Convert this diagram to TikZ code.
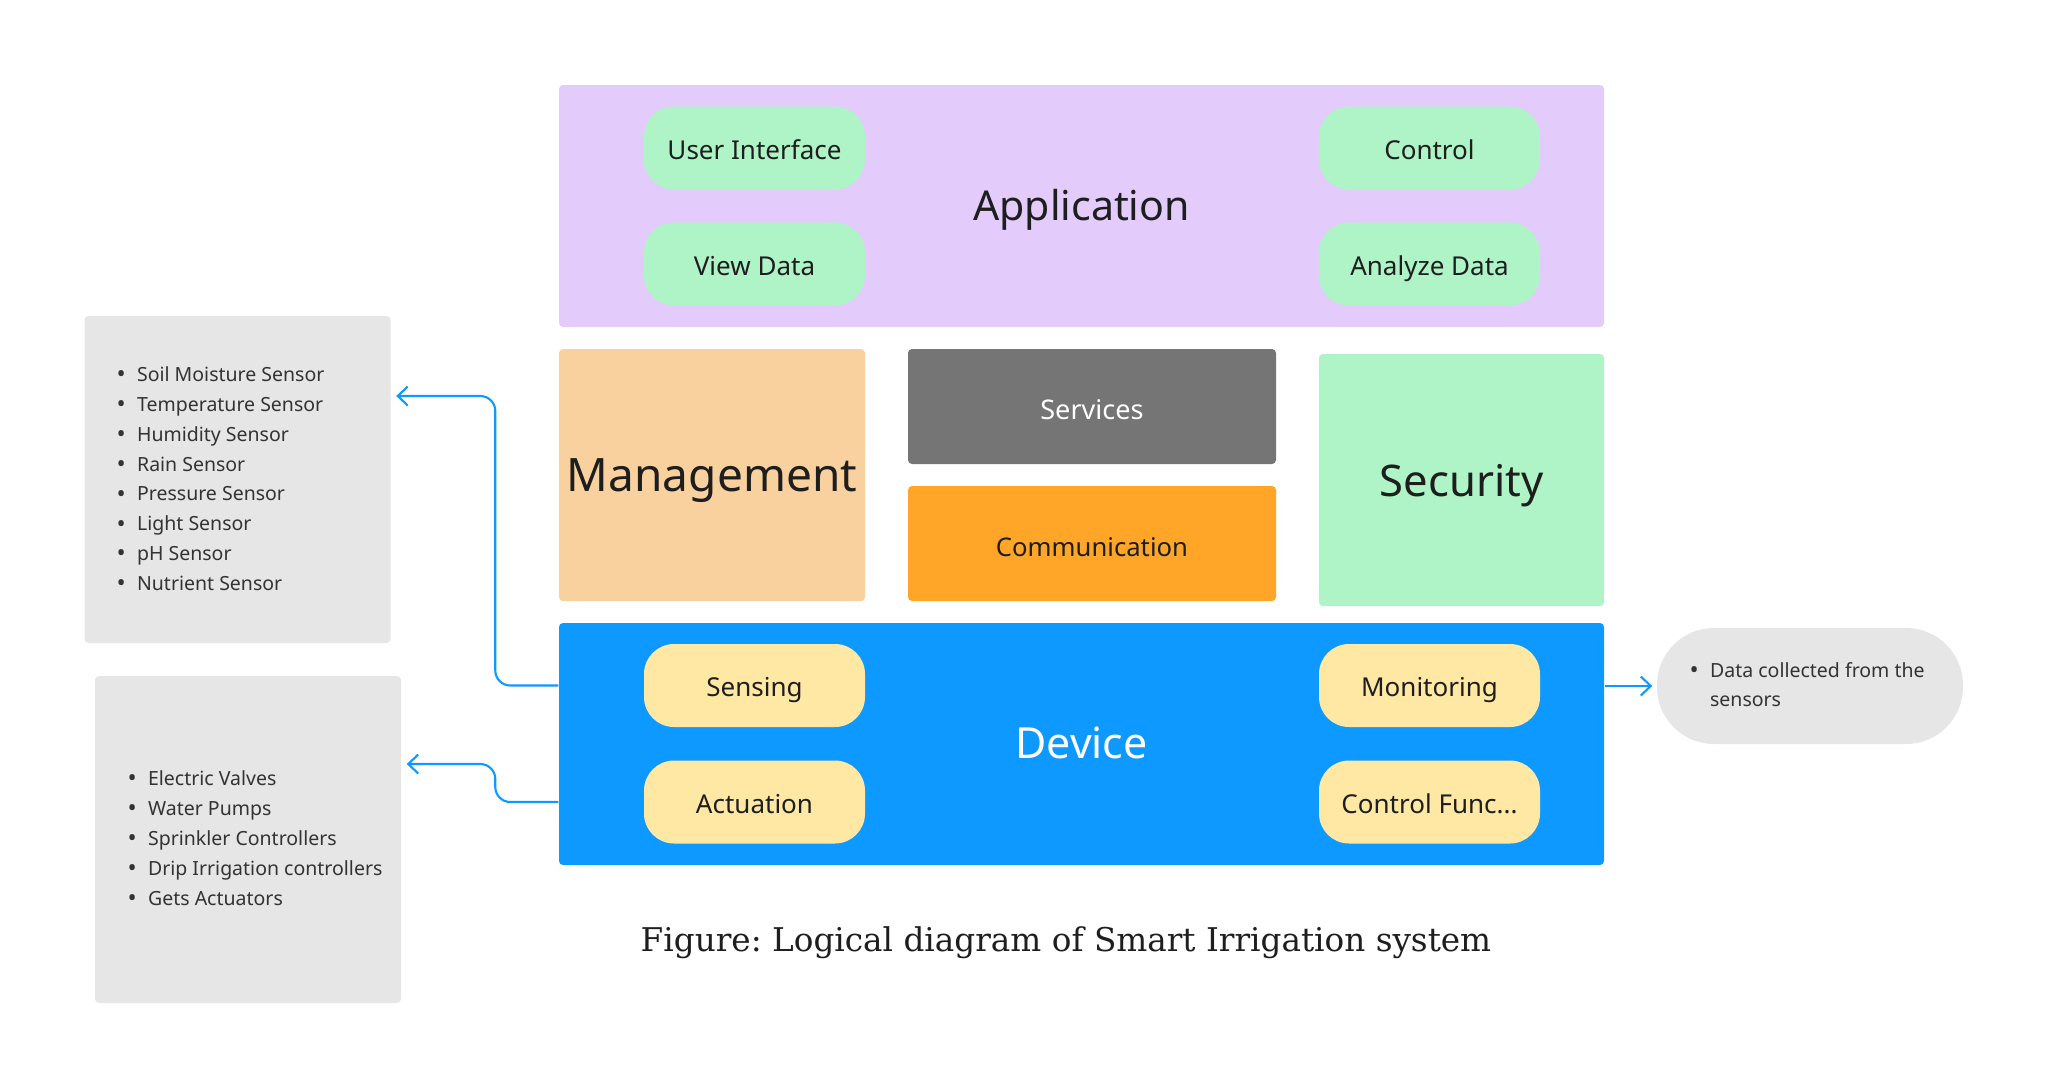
\documentclass[tikz,border=0pt]{standalone}
\usepackage{fontspec}
\setmainfont{Noto Sans}
\newfontfamily\captionserif{DejaVu Serif}
\usetikzlibrary{arrows.meta,positioning}
\definecolor{applilac}{HTML}{E3CCFB}
\definecolor{pillgreen}{HTML}{AFF4C6}
\definecolor{mgmtpeach}{HTML}{F9D19E}
\definecolor{servgray}{HTML}{757575}
\definecolor{commorange}{HTML}{FFA629}
\definecolor{devblue}{HTML}{0D99FF}
\definecolor{pillyellow}{HTML}{FFE8A3}
\definecolor{notegray}{HTML}{E6E6E6}
\definecolor{ink}{HTML}{1E1E1E}
\definecolor{listink}{HTML}{333333}
\newcommand{\itembullet}{\raisebox{-0.12ex}{\scalebox{1.25}{\textbullet}}}
\tikzset{%
  captext/.style={text height=0.72em,text depth=0pt},
  layer/.style={rectangle,rounded corners=0.04cm,inner sep=0pt,text=ink,captext},
  pill/.style={rectangle,rounded corners=0.3cm,minimum width=2.21cm,minimum height=0.83cm,inner sep=0pt,text=ink,text height=0.64em,text depth=0pt,font=\fontsize{7.4}{9}\selectfont},
  note/.style={rectangle,rounded corners=0.04cm,fill=notegray,minimum width=3.06cm,minimum height=3.27cm,inner sep=0pt},
  itemlist/.style={anchor=west,inner sep=0pt,text=listink,font=\fontsize{5.55}{8.5}\selectfont},
  arrow/.style={draw=devblue,line width=0.6pt,rounded corners=0.15cm,-{Straight Barb[length=0.1cm,width=0.19cm]}},
}

\begin{document}
\begin{tikzpicture}
      \useasboundingbox[fill=white] (0,0) rectangle (20.48,-10.87);

      % application layer
      \node[layer,fill=applilac,minimum width=10.45cm,minimum height=2.42cm] (app) at (10.815,-2.06) {};
      \node[text=ink,captext,font=\fontsize{11.7}{14}\selectfont] (app_label) at (10.815,-2.08) {Application};
      \node[pill,fill=pillgreen] (ui) at (7.545,-1.48) {User Interface};
      \node[pill,fill=pillgreen] (view) at (7.545,-2.64) {View Data};
      \node[pill,fill=pillgreen] (control) at (14.295,-1.48) {Control};
      \node[pill,fill=pillgreen] (analyze) at (14.295,-2.64) {Analyze Data};

      % middle layers
      \node[layer,fill=mgmtpeach,minimum width=3.06cm,minimum height=2.52cm,text height=0.95em,font=\fontsize{13.1}{16}\selectfont] (mgmt) at (7.12,-4.75) {Management};
      \node[layer,fill=servgray,text=white,minimum width=3.68cm,minimum height=1.15cm,font=\fontsize{7.7}{9}\selectfont] (services) at (10.92,-4.065) {Services};
      \node[layer,fill=commorange,minimum width=3.68cm,minimum height=1.15cm,font=\fontsize{7.3}{9}\selectfont] (comm) at (10.92,-5.435) {Communication};
      \node[layer,fill=pillgreen,minimum width=2.85cm,minimum height=2.52cm,text height=0.95em,font=\fontsize{12.4}{15}\selectfont] (security) at (14.615,-4.8) {Security};

      % device layer
      \node[layer,fill=devblue,minimum width=10.45cm,minimum height=2.42cm] (device) at (10.815,-7.44) {};
      \node[text=white,captext,font=\fontsize{12.2}{14}\selectfont] (device_label) at (10.815,-7.46) {Device};
      \node[pill,fill=pillyellow] (sensing) at (7.545,-6.855) {Sensing};
      \node[pill,fill=pillyellow] (actuation) at (7.545,-8.02) {Actuation};
      \node[pill,fill=pillyellow] (monitoring) at (14.295,-6.855) {Monitoring};
      \node[pill,fill=pillyellow] (ctrlfunc) at (14.295,-8.02) {Control Func...};

      % side notes
      \node[note] (sensors) at (2.375,-4.795) {};
      \node[itemlist] (sensors_list) at (1.16,-4.80) {\begin{tabular}{@{}l@{\hspace{3.2pt}}l@{}}
        \itembullet & Soil Moisture Sensor\\
        \itembullet & Temperature Sensor\\
        \itembullet & Humidity Sensor\\
        \itembullet & Rain Sensor\\
        \itembullet & Pressure Sensor\\
        \itembullet & Light Sensor\\
        \itembullet & pH Sensor\\
        \itembullet & Nutrient Sensor
      \end{tabular}};

      \node[note] (actuators) at (2.48,-8.395) {};
      \node[itemlist] (actuators_list) at (1.27,-8.395) {\begin{tabular}{@{}l@{\hspace{3.2pt}}l@{}}
        \itembullet & Electric Valves\\
        \itembullet & Water Pumps\\
        \itembullet & Sprinkler Controllers\\
        \itembullet & Drip Irrigation controllers\\
        \itembullet & Gets Actuators
      \end{tabular}};

      \node[note,minimum height=1.16cm,rounded corners=0.57cm] (data) at (18.10,-6.86) {};
      \node[itemlist] (data_list) at (16.89,-6.86) {\begin{tabular}{@{}l@{\hspace{3.2pt}}l@{}}
        \itembullet & Data collected from the\\
                    & sensors
      \end{tabular}};

      % connectors
      \draw[arrow] (device.west |- sensing) -- ++(-0.63,0) |- ([xshift=0.05cm,yshift=0.835cm]sensors.east);
      \draw[arrow] (device.west |- actuation) -- ++(-0.63,0) |- ([xshift=0.05cm,yshift=0.755cm]actuators.east);
      \draw[arrow] (device.east |- data.west) -- ([xshift=-0.04cm]data.west);

      \node[text=ink,captext,font=\captionserif\frenchspacing\fontsize{9.3}{11}\selectfont] (caption) at (10.66,-9.39) {Figure: Logical diagram of Smart Irrigation system};
\end{tikzpicture}
\end{document}
